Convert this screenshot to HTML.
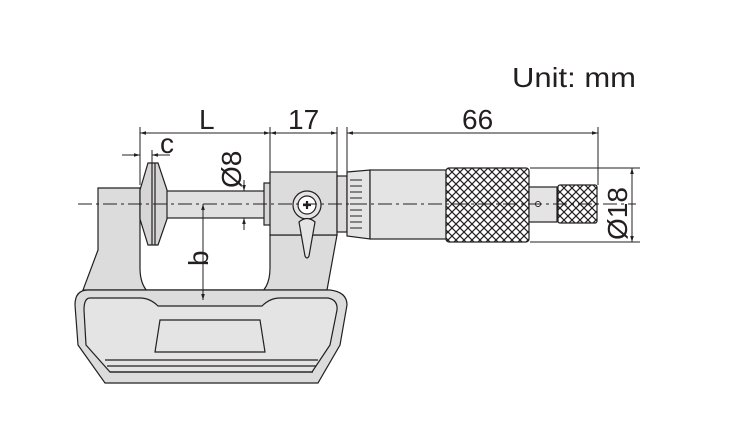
<!DOCTYPE html>
<html><head><meta charset="utf-8"><style>body{margin:0;background:#fff}svg{display:block}text{font-family:"Liberation Sans",Arial,sans-serif;fill:#231f20}</style></head><body>
<svg width="753" height="438" viewBox="0 0 753 438" xmlns="http://www.w3.org/2000/svg">
<defs>
<pattern id="kn" width="8" height="8" patternUnits="userSpaceOnUse">
<rect width="8" height="8" fill="#fff"/>
<path d="M0 0L8 8M8 0L0 8" stroke="#231f20" stroke-width="1.2"/>
</pattern>
<marker id="a" viewBox="0 0 10 10" refX="10" refY="5" markerWidth="8" markerHeight="6" orient="auto-start-reverse"><path d="M0 2L10 5L0 8z" fill="#231f20"/></marker>
</defs>
<g stroke="#231f20" stroke-width="1.2" fill="#dcdcdc">
<path d="M98 188 H140 V268 Q140 300 172 300 H238 Q270 300 270 268 V235 H337 L327 290 H100 L83 290 L98 250 Z"/>
<path d="M88 290 H330 Q347 292 347 305 L340 345 L318 383 H105 L78 345 L75 305 Q75 290 88 290 Z"/>
<path d="M90 298 H140 Q150 298 158 306 H262 Q270 298 280 298 H328 Q338 300 337 310 L330 345 L312 372 H110 L86 345 L84 310 Q84 298 90 298 Z" fill="#e4e4e4"/>
<path d="M160 320 H260 L265 352 H155 Z" fill="#e4e4e4"/>
<path d="M105 360 H318 M107 366 H316 M110 372 H313" fill="none"/>
<rect x="160" y="191" width="107" height="27" fill="#e0e0e0"/>
<path d="M148 163 H158 L167 190 V219 L158 245 H148 L140 219 V190 Z" fill="#d6d6d6"/>
<line x1="152" y1="163" x2="152" y2="245"/><line x1="155" y1="163" x2="155" y2="245"/>
<rect x="264" y="183" width="7" height="42" fill="#d6d6d6"/>
<rect x="270" y="172" width="67" height="63" fill="#dcdcdc"/>
<circle cx="307" cy="205" r="14" fill="#e4e4e4"/>
<circle cx="307" cy="205" r="9" fill="#fff"/>
<path d="M303 205h8M307 201v8" stroke-width="2.2"/>
<path d="M299 222 Q307 215 315 222 L309 256 Q307 260 305 256 Z" fill="#e4e4e4"/>
<rect x="337" y="176" width="10" height="56" fill="#dcdcdc"/>
<path d="M347 172 L370 170 V239 L347 236 Z" fill="#e4e4e4"/>
<rect x="370" y="170" width="76" height="69" fill="#e4e4e4"/>
<rect x="446" y="168" width="83" height="74" rx="3" fill="url(#kn)"/>
<rect x="529" y="187" width="28" height="35" fill="#e4e4e4"/>
<rect x="558" y="185" width="39" height="38" rx="2" fill="url(#kn)"/>
</g>
<g stroke="#231f20" stroke-width="1">
<path d="M350 180h12M350 186h12M350 192h12M350 198h12M350 204h14M350 210h12M350 216h12M350 222h12M350 228h12" fill="none"/>
<circle cx="538" cy="204" r="2.5" fill="#fff"/>
<path d="M78 204H636" stroke-dasharray="14 4 3 4" fill="none"/>
<path d="M140 127V185M270 127V172M337 127V172M347 127V172M598 127V185M530 168H640M530 242H640" fill="none"/>
<line x1="140" y1="133" x2="270" y2="133" marker-start="url(#a)" marker-end="url(#a)"/>
<line x1="270" y1="133" x2="337" y2="133" marker-start="url(#a)" marker-end="url(#a)"/>
<line x1="347" y1="133" x2="598" y2="133" marker-start="url(#a)" marker-end="url(#a)"/>
<line x1="632" y1="168" x2="632" y2="242" marker-start="url(#a)" marker-end="url(#a)"/>
<line x1="122" y1="155" x2="140" y2="155" marker-end="url(#a)"/>
<line x1="170" y1="155" x2="152" y2="155" marker-end="url(#a)"/>
<line x1="152" y1="150" x2="152" y2="163"/>
<line x1="244" y1="180" x2="244" y2="191" marker-end="url(#a)"/>
<line x1="244" y1="230" x2="244" y2="218" marker-end="url(#a)"/>
<line x1="203" y1="204" x2="203" y2="300" marker-start="url(#a)" marker-end="url(#a)"/>
</g>
<text x="512" y="87" font-size="28" textLength="124" lengthAdjust="spacingAndGlyphs">Unit: mm</text>
<text x="199" y="129" font-size="28">L</text>
<text x="288" y="129" font-size="28">17</text>
<text x="462" y="129" font-size="28">66</text>
<text x="160" y="153" font-size="28">c</text>
<text transform="translate(241,188) rotate(-90)" font-size="28">Ø8</text>
<text transform="translate(208,266) rotate(-90)" font-size="28">b</text>
<text transform="translate(627,240) rotate(-90)" font-size="28">Ø18</text>
</svg>
</body></html>
